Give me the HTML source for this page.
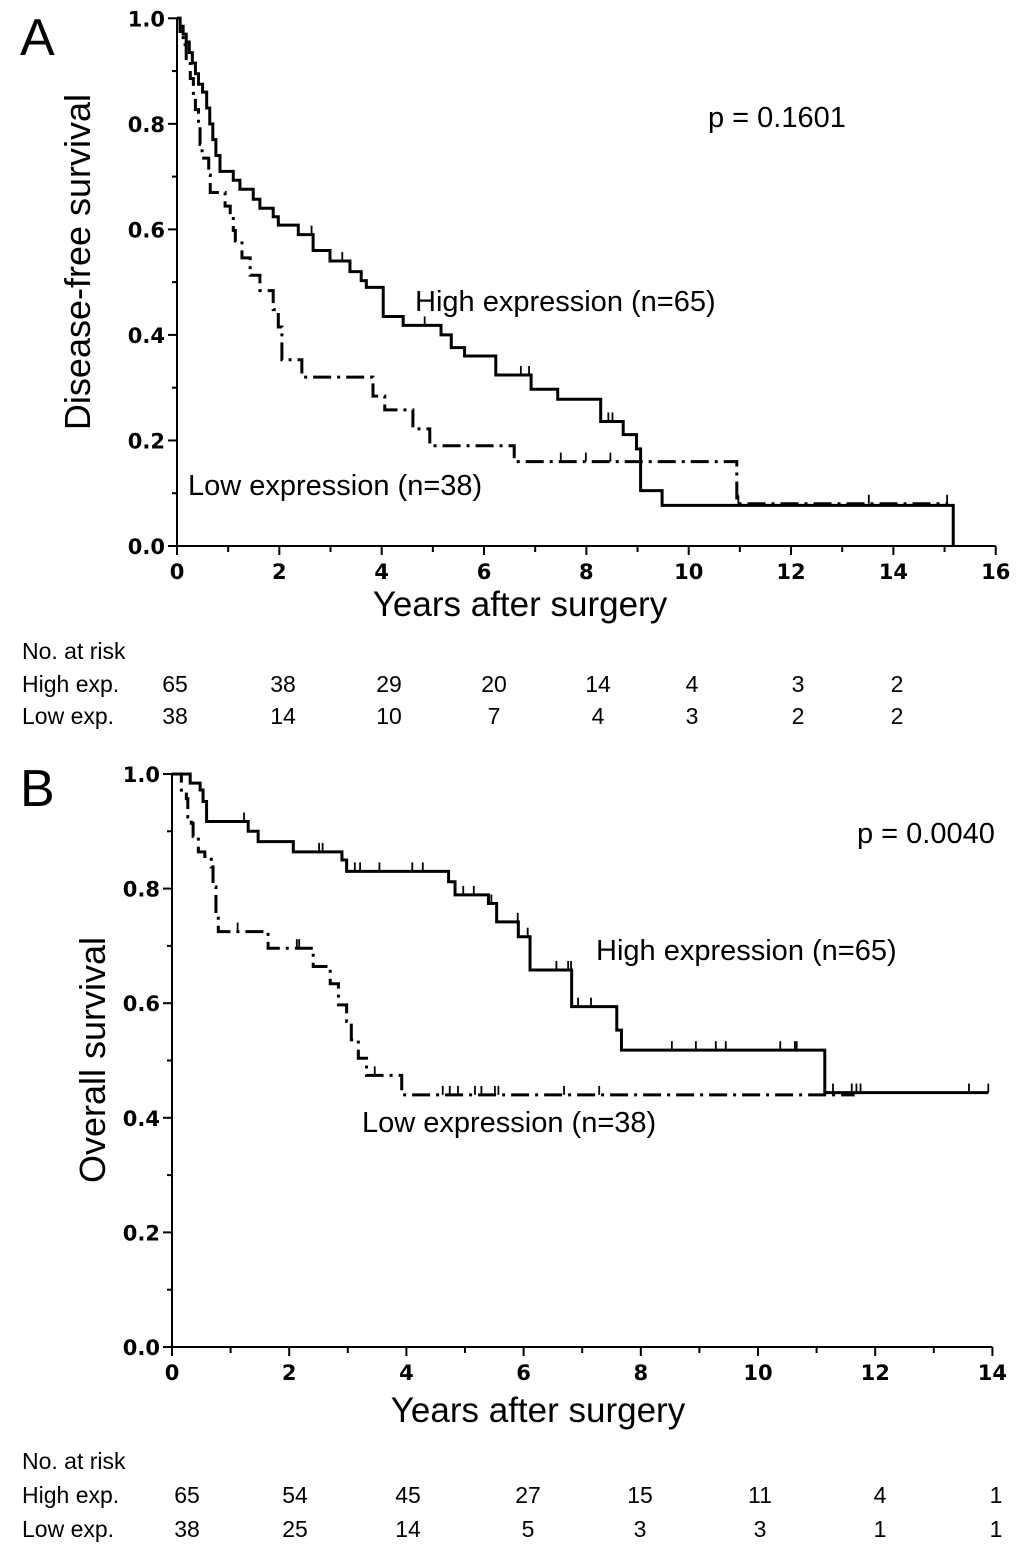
<!DOCTYPE html>
<html><head><meta charset="utf-8"><style>
body{margin:0;background:#fff;}
svg{display:block;font-family:"Liberation Sans",sans-serif;}
.tk{font-family:"DejaVu Sans",sans-serif;font-weight:bold;font-size:21px;}
</style></head><body>
<svg id="fig" width="1033" height="1553" viewBox="0 0 1033 1553">
<text x="20" y="55" font-size="52">A</text>
<text x="708" y="127" font-size="29">p = 0.1601</text>
<text x="415" y="311" font-size="29">High expression (n=65)</text>
<text x="188" y="495" font-size="29">Low expression (n=38)</text>
<text transform="translate(90,262) rotate(-90)" text-anchor="middle" font-size="36">Disease-free survival</text>
<text x="520" y="616" text-anchor="middle" font-size="35">Years after surgery</text>
<text x="22" y="659" font-size="23">No. at risk</text>
<text x="22" y="692" font-size="23">High exp.</text>
<text x="22" y="724" font-size="23">Low exp.</text>

<text x="20" y="806" font-size="52">B</text>
<text x="857" y="843" font-size="29">p = 0.0040</text>
<text x="596" y="960" font-size="29">High expression (n=65)</text>
<text x="362" y="1132" font-size="29">Low expression (n=38)</text>
<text transform="translate(105,1060) rotate(-90)" text-anchor="middle" font-size="36">Overall survival</text>
<text x="538" y="1422" text-anchor="middle" font-size="35">Years after surgery</text>
<text x="22" y="1469" font-size="23">No. at risk</text>
<text x="22" y="1503" font-size="23">High exp.</text>
<text x="22" y="1537" font-size="23">Low exp.</text>
</svg>
<script>
// Panel A data
const aHighT = [0,0.06,0.12,0.18,0.24,0.3,0.36,0.42,0.5,0.58,0.64,0.70,0.76,0.84,1.10,1.23,1.49,1.62,1.88,1.98,2.37,2.66,2.99,3.38,3.60,3.70,4.03,4.42,5.16,5.36,5.62,6.23,6.92,7.44,8.28,8.72,8.98,9.06,9.48,15.17];
const aHighS = [1.0,0.985,0.97,0.955,0.935,0.915,0.895,0.875,0.86,0.83,0.80,0.77,0.74,0.71,0.693,0.676,0.657,0.64,0.624,0.608,0.59,0.56,0.54,0.52,0.503,0.49,0.435,0.418,0.40,0.376,0.36,0.324,0.297,0.278,0.236,0.211,0.184,0.105,0.077,0.0];
const aHighEnd = 15.17;
const aHighCens = [2.63,3.23,4.84,6.72,6.88,8.43,8.51];
const aLowT = [0,0.06,0.12,0.18,0.26,0.32,0.36,0.42,0.45,0.49,0.62,0.65,0.94,1.04,1.10,1.14,1.27,1.43,1.62,1.88,1.98,2.05,2.44,3.83,4.06,4.61,4.94,6.59,10.94];
const aLowS = [1.0,0.975,0.95,0.92,0.886,0.853,0.827,0.794,0.761,0.735,0.703,0.67,0.644,0.624,0.598,0.578,0.546,0.513,0.484,0.448,0.415,0.353,0.32,0.284,0.258,0.222,0.19,0.16,0.08];
const aLowEnd = 15.07;
const aLowCens = [7.5,7.99,8.47,10.97,13.52,15.05];
const aXTicks = ["0","2","4","6","8","10","12","14","16"];
const aYTicks = ["0.0","0.2","0.4","0.6","0.8","1.0"];
const aRiskHigh = ["65","38","29","20","14","4","3","2"];
const aRiskLow = ["38","14","10","7","4","3","2","2"];
// Panel B data
const bHighT = [0,0.31,0.48,0.53,0.59,1.30,1.47,2.07,2.90,2.98,4.72,4.83,5.40,5.54,5.91,6.11,6.82,7.59,7.67,11.14];
const bHighS = [1.0,0.984,0.972,0.952,0.917,0.90,0.882,0.864,0.85,0.83,0.812,0.789,0.774,0.742,0.716,0.658,0.594,0.553,0.518,0.444];
const bHighEnd = 13.93;
const bHighCens = [1.23,2.51,2.57,3.12,3.21,3.54,4.1,4.28,4.97,5.15,5.45,5.9,6.07,6.56,6.76,6.81,6.93,7.15,8.53,8.94,9.28,9.45,10.38,10.63,10.66,11.28,11.6,11.68,11.75,13.6,13.93];
const bLowT = [0,0.16,0.245,0.27,0.33,0.36,0.45,0.56,0.67,0.70,0.75,0.79,1.64,2.41,2.70,2.84,2.98,3.06,3.18,3.32,3.92];
const bLowS = [1.0,0.969,0.957,0.925,0.914,0.891,0.864,0.856,0.838,0.803,0.751,0.725,0.696,0.664,0.634,0.597,0.568,0.536,0.504,0.474,0.44];
const bLowEnd = 11.65;
const bLowCens = [1.12,2.13,2.17,3.46,4.62,4.74,4.88,5.17,5.28,5.51,5.57,6.69,7.29];
const bXTicks = ["0","2","4","6","8","10","12","14"];
const bYTicks = ["0.0","0.2","0.4","0.6","0.8","1.0"];
const bRiskHigh = ["65","54","45","27","15","11","4","1"];
const bRiskLow = ["38","25","14","5","3","3","1","1"];

const NS = "http://www.w3.org/2000/svg";
const svg = document.getElementById("fig");
function mk(tag, attrs){const e=document.createElementNS(NS,tag);for(const k in attrs)e.setAttribute(k,attrs[k]);svg.appendChild(e);return e;}

function panel(p, F){
  const X = t => F.x0 + t*F.px;
  const Y = s => F.y0 - s*F.py;
  const xmax = Number(F.xt[F.xt.length-1]);
  let ax = mk("path",{d:`M${X(0)},${Y(1)} V${Y(0)} H${X(xmax)}`,stroke:"#000","stroke-width":2,fill:"none"});
  
  
  for(let i=0;i<=xmax;i++){
    const major = i%2===0;
    const t = mk("line",{x1:X(i),x2:X(i),y1:Y(0),y2:Y(0)+(major?9:6),stroke:"#000","stroke-width":2});
    
    
  }
  F.xt.forEach(l=>{
    const tx = mk("text",{x:X(Number(l)),y:Y(0)+33,"text-anchor":"middle",class:"tk"});
    tx.textContent=l;
    
    
  });
  for(let i=0;i<=10;i++){
    const major=i%2===0;
    const t = mk("line",{x1:X(0),x2:X(0)-(major?9:5),y1:Y(i/10),y2:Y(i/10),stroke:"#000","stroke-width":2});
    
    
  }
  F.yt.forEach(l=>{
    const tx = mk("text",{x:X(0)-12,y:Y(Number(l))+8,"text-anchor":"end",class:"tk"});
    tx.textContent=l;
    
    
  });
  function curve(T,S,end,cens,name,dash){
    let d=`M${X(T[0])},${Y(S[0])}`;
    for(let i=1;i<T.length;i++){d+=` H${X(T[i])} V${Y(S[i])}`;}
    d+=` H${X(end)}`;
    const c = mk("path",{d,stroke:"#000","stroke-width":3,fill:"none"});
    if(dash)c.setAttribute("stroke-dasharray",dash);
    
    
    cens.forEach(t=>{
      let s=S[0];for(let i=0;i<T.length;i++){if(T[i]<=t)s=S[i];}
      const m = mk("line",{x1:X(t),x2:X(t),y1:Y(s),y2:Y(s)-9,stroke:"#000","stroke-width":1.8});
      
      
    });
  }
  curve(F.lT,F.lS,F.lE,F.lC,p+'-low-curve',"18,6,3,6");
  curve(F.hT,F.hS,F.hE,F.hC,p+'-high-curve',null);
  F.rH.forEach((v,i)=>{
    const t=mk("text",{x:F.rx[i],y:F.ry1,"text-anchor":"middle","font-size":23});t.textContent=v;
    
    
  });
  F.rL.forEach((v,i)=>{
    const t=mk("text",{x:F.rx[i],y:F.ry2,"text-anchor":"middle","font-size":23});t.textContent=v;
    
    
  });
}
panel("panel-a",{x0:177,px:51.17,y0:546,py:527.7,xt:aXTicks,yt:aYTicks,
  hT:aHighT,hS:aHighS,hE:aHighEnd,hC:aHighCens,lT:aLowT,lS:aLowS,lE:aLowEnd,lC:aLowCens,
  rH:aRiskHigh,rL:aRiskLow,rx:[175,283,389,494,598,692,798,897],ry1:692,ry2:724});
panel("panel-b",{x0:172,px:58.6,y0:1347,py:573,xt:bXTicks,yt:bYTicks,
  hT:bHighT,hS:bHighS,hE:bHighEnd,hC:bHighCens,lT:bLowT,lS:bLowS,lE:bLowEnd,lC:bLowCens,
  rH:bRiskHigh,rL:bRiskLow,rx:[187,295,408,528,640,760,880,996],ry1:1503,ry2:1537});
</script>
</body></html>
